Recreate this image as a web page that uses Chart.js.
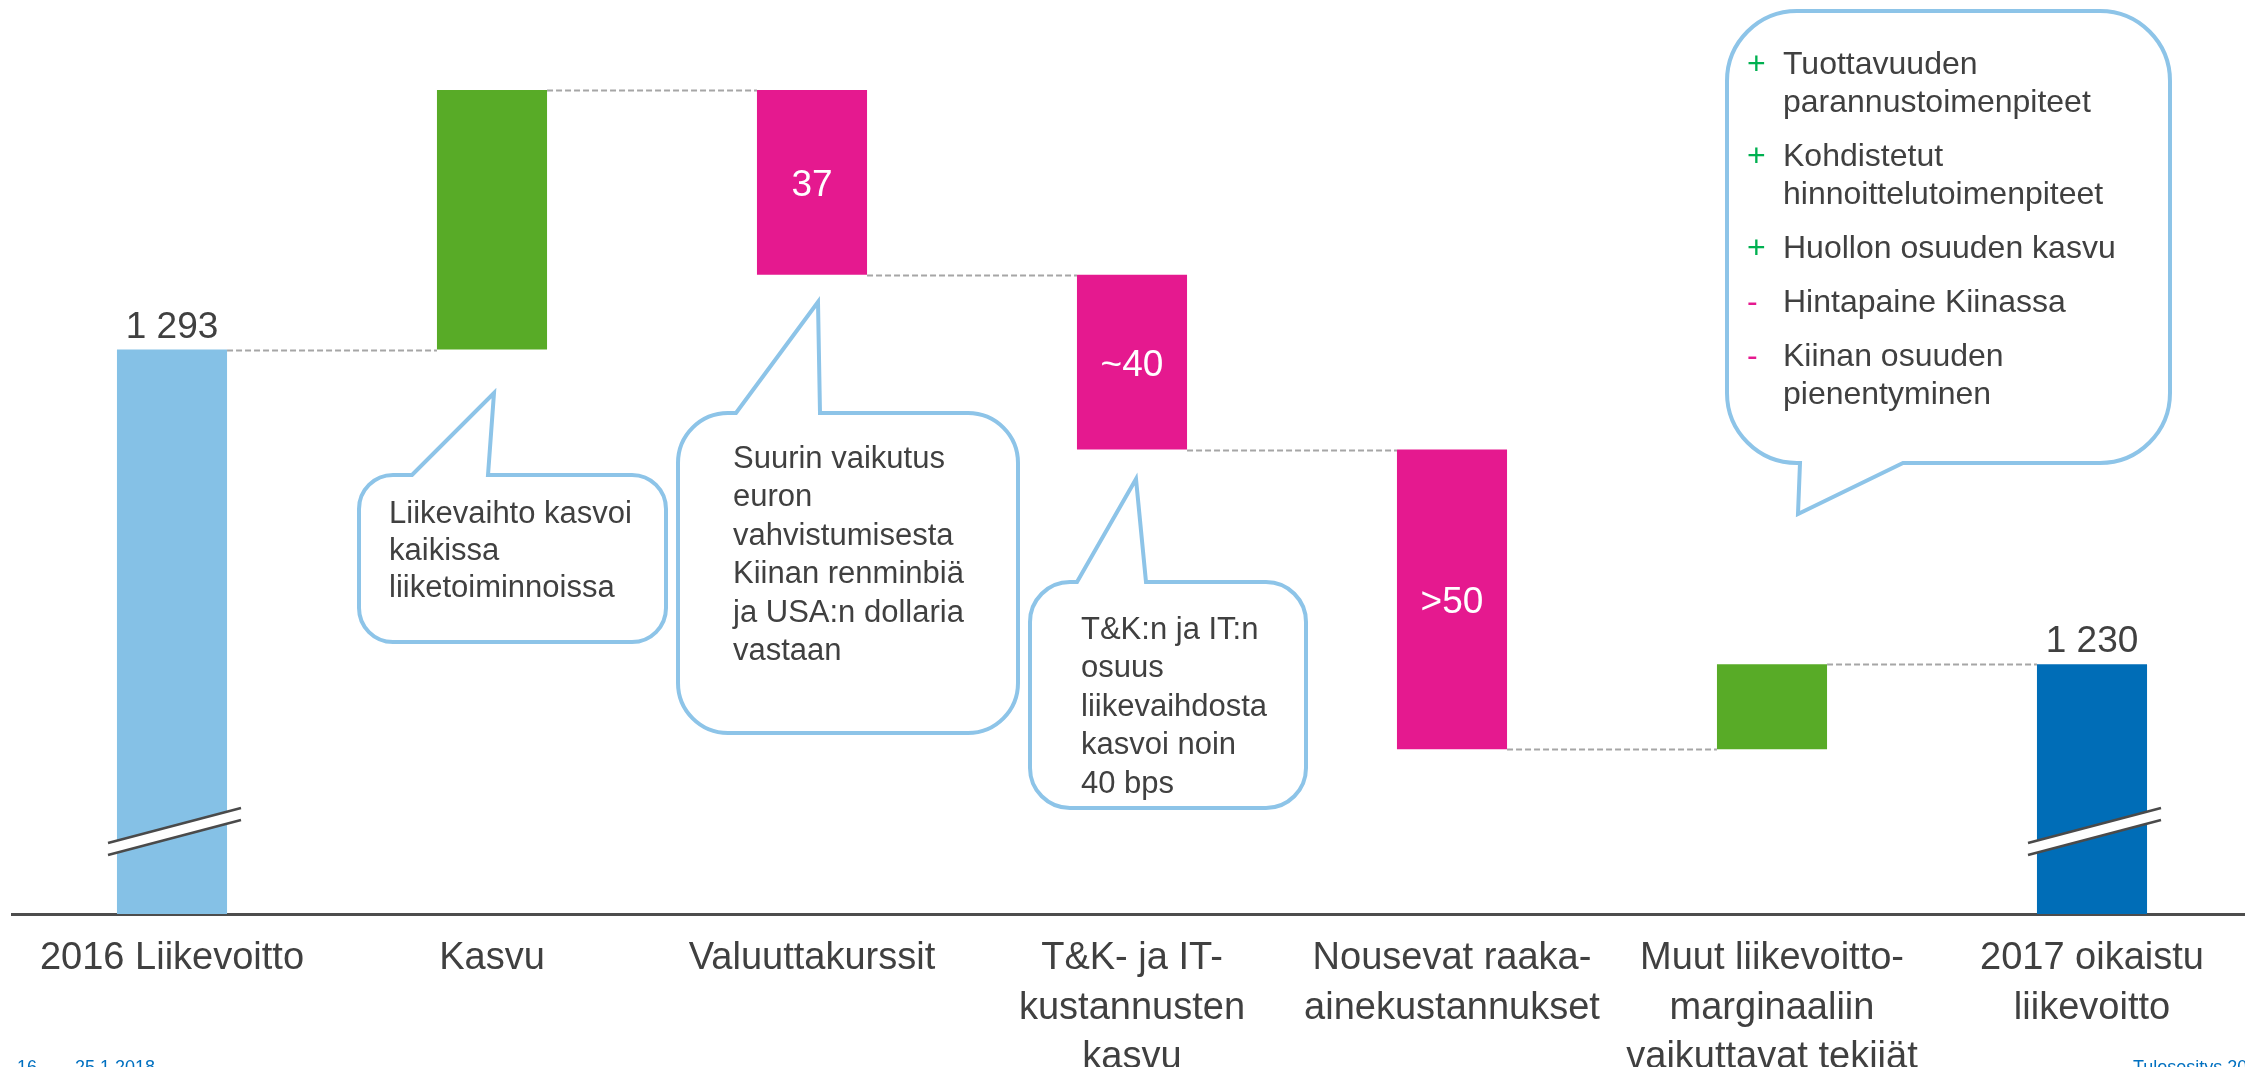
<!DOCTYPE html>
<html>
<head>
<meta charset="utf-8">
<script src="https://cdn.jsdelivr.net/npm/chart.js@4.4.1/dist/chart.umd.min.js"></script>
<style>
  html, body { margin: 0; padding: 0; background: #fff; overflow: hidden; }
  #wrap { width: 2260px; height: 1067px; }
</style>
</head>
<body>
<div id="wrap"><canvas id="bridge"></canvas></div>
<script>
const categories = [
  "2016 Liikevoitto",
  "Kasvu",
  "Valuuttakurssit",
  ["T&K- ja IT-", "kustannusten", "kasvu"],
  ["Nousevat raaka-", "ainekustannukset"],
  ["Muut liikevoitto-", "marginaaliin", "vaikuttavat tekijät"],
  ["2017 oikaistu", "liikevoitto"]
];
const startValue = 1293;
const changes = [52, -37, -35, -60, 17];
const endValue = 1230;
const axisMin = 1180;
const axisMax = 1363;
const barLabels = ["1 293", "", "37", "~40", ">50", "", "1 230"];
const barColors = ["#85C1E6", "#58AB27", "#E5198F", "#E5198F", "#E5198F", "#58AB27", "#006DB7"];

// floating bars and running totals
const ranges = [[axisMin, startValue]];
const totals = [startValue];
let level = startValue;
changes.forEach(d => {
  const next = level + d;
  ranges.push([Math.min(level, next), Math.max(level, next)]);
  level = next;
  totals.push(level);
});
ranges.push([axisMin, endValue]);

const FONT = '"Liberation Sans", Arial, sans-serif';
const TEXT = "#404040";

const callouts = [
  { l: 359, t: 475, r: 666, b: 642, rad: 34, tail: { side: "top", x1: 412, x2: 488, tx: 494, ty: 393 },
    x: 389, y: 514, step: 37, lines: ["Liikevaihto kasvoi", "kaikissa", "liiketoiminnoissa"] },
  { l: 678, t: 413, r: 1018, b: 733, rad: 50, tail: { side: "top", x1: 736, x2: 820, tx: 818, ty: 302 },
    x: 733, y: 459, step: 38.5, lines: ["Suurin vaikutus", "euron", "vahvistumisesta", "Kiinan renminbiä", "ja USA:n dollaria", "vastaan"] },
  { l: 1030, t: 582, r: 1306, b: 808, rad: 40, tail: { side: "top", x1: 1077, x2: 1146, tx: 1136, ty: 479 },
    x: 1081, y: 630, step: 38.5, lines: ["T&K:n ja IT:n", "osuus", "liikevaihdosta", "kasvoi noin", "40 bps"] }
];
const bigBubble = { l: 1727, t: 11, r: 2170, b: 463, rad: 70, tail: { side: "bottom", x1: 1800, x2: 1903, tx: 1798, ty: 514 } };
const factors = [
  { sign: "+", lines: ["Tuottavuuden", "parannustoimenpiteet"] },
  { sign: "+", lines: ["Kohdistetut", "hinnoittelutoimenpiteet"] },
  { sign: "+", lines: ["Huollon osuuden kasvu"] },
  { sign: "-", lines: ["Hintapaine Kiinassa"] },
  { sign: "-", lines: ["Kiinan osuuden", "pienentyminen"] }
];

function drawBubble(ctx, o) {
  const { l, t, r, b, rad, tail } = o;
  ctx.beginPath();
  ctx.moveTo(l + rad, t);
  if (tail.side === "top") {
    ctx.lineTo(tail.x1, t); ctx.lineTo(tail.tx, tail.ty); ctx.lineTo(tail.x2, t);
  }
  ctx.lineTo(r - rad, t);
  ctx.arcTo(r, t, r, t + rad, rad);
  ctx.lineTo(r, b - rad);
  ctx.arcTo(r, b, r - rad, b, rad);
  if (tail.side === "bottom") {
    ctx.lineTo(tail.x2, b); ctx.lineTo(tail.tx, tail.ty); ctx.lineTo(tail.x1, b);
  }
  ctx.lineTo(l + rad, b);
  ctx.arcTo(l, b, l, b - rad, rad);
  ctx.lineTo(l, t + rad);
  ctx.arcTo(l, t, l + rad, t, rad);
  ctx.closePath();
  ctx.fillStyle = "#fff";
  ctx.fill();
  ctx.lineWidth = 4;
  ctx.lineJoin = "miter";
  ctx.strokeStyle = "#8DC4E8";
  ctx.stroke();
}

const bridgePlugin = {
  id: "bridge",
  afterDatasetsDraw(chart) {
    const ctx = chart.ctx;
    const bars = chart.getDatasetMeta(0).data;
    const y = chart.scales.y;
    const yb = chart.chartArea.bottom;

    // dashed connectors
    ctx.save();
    ctx.strokeStyle = "#A6A6A6";
    ctx.lineWidth = 2;
    ctx.setLineDash([6, 3]);
    for (let i = 0; i < bars.length - 1; i++) {
      const a = bars[i], n = bars[i + 1];
      const py = Math.round(y.getPixelForValue(totals[i])) + 0.5;
      ctx.beginPath();
      ctx.moveTo(a.x + a.width / 2, py);
      ctx.lineTo(n.x - n.width / 2, py);
      ctx.stroke();
    }
    ctx.restore();

    // axis break marks on first and last bar
    [0, bars.length - 1].forEach(i => {
      const cx = bars[i].x;
      const x1 = cx - 64, x2 = cx + 69;
      ctx.save();
      ctx.beginPath();
      ctx.moveTo(x1, yb - 71); ctx.lineTo(x2, yb - 106);
      ctx.lineTo(x2, yb - 94); ctx.lineTo(x1, yb - 59);
      ctx.closePath();
      ctx.fillStyle = "#fff";
      ctx.fill();
      ctx.strokeStyle = "#4A4A4A";
      ctx.lineWidth = 2.5;
      ctx.beginPath(); ctx.moveTo(x1, yb - 71); ctx.lineTo(x2, yb - 106); ctx.stroke();
      ctx.beginPath(); ctx.moveTo(x1, yb - 59); ctx.lineTo(x2, yb - 94); ctx.stroke();
      ctx.restore();
    });

    // value labels
    ctx.save();
    ctx.font = "37px " + FONT;
    ctx.textAlign = "center";
    ctx.textBaseline = "alphabetic";
    bars.forEach((bar, i) => {
      const txt = barLabels[i];
      if (!txt) return;
      const top = y.getPixelForValue(ranges[i][1]);
      const bottom = y.getPixelForValue(ranges[i][0]);
      if (i === 0 || i === bars.length - 1) {
        ctx.fillStyle = TEXT;
        ctx.fillText(txt, bar.x, top - 12);
      } else {
        ctx.fillStyle = "#fff";
        ctx.fillText(txt, bar.x, (top + bottom) / 2 + 14);
      }
    });
    ctx.restore();
  },
  afterDraw(chart) {
    const ctx = chart.ctx;
    ctx.save();
    callouts.forEach(c => {
      drawBubble(ctx, c);
      ctx.font = "31px " + FONT;
      ctx.fillStyle = TEXT;
      ctx.textAlign = "left";
      ctx.textBaseline = "middle";
      c.lines.forEach((s, k) => ctx.fillText(s, c.x, c.y + k * c.step));
    });

    drawBubble(ctx, bigBubble);
    let ly = 65;
    factors.forEach(f => {
      ctx.font = "32px " + FONT;
      ctx.textBaseline = "middle";
      ctx.fillStyle = f.sign === "+" ? "#00B050" : "#E5198F";
      ctx.fillText(f.sign, 1747, ly);
      ctx.fillStyle = TEXT;
      f.lines.forEach((s, k) => ctx.fillText(s, 1783, ly + k * 38));
      ly += (f.lines.length - 1) * 38 + 54;
    });

    // footer
    ctx.font = "18px " + FONT;
    ctx.fillStyle = "#0070C0";
    ctx.textBaseline = "alphabetic";
    ctx.fillText("16", 17, 1073);
    ctx.fillText("25.1.2018", 75, 1073);
    ctx.fillText("Tulosesitys 2018", 2133, 1073);
    ctx.restore();
  }
};

new Chart(document.getElementById("bridge"), {
  type: "bar",
  data: {
    labels: categories,
    datasets: [{
      data: ranges,
      backgroundColor: barColors,
      borderWidth: 0,
      categoryPercentage: 1,
      barPercentage: 0.344
    }]
  },
  options: {
    responsive: true,
    maintainAspectRatio: false,
    animation: false,
    layout: { padding: { left: 12, right: 8, top: 0, bottom: 0 } },
    plugins: { legend: { display: false }, tooltip: { enabled: false } },
    scales: {
      x: {
        grid: { display: false },
        border: { display: true, color: "#4D4D4D", width: 3 },
        ticks: {
          color: TEXT,
          font: { family: FONT, size: 38, lineHeight: 1.3 },
          padding: 12,
          maxRotation: 0,
          autoSkip: false
        },
        afterFit: (scale) => { scale.height = 153; }
      },
      y: {
        display: false,
        min: axisMin,
        max: axisMax
      }
    }
  },
  plugins: [bridgePlugin]
});
</script>
</body>
</html>
